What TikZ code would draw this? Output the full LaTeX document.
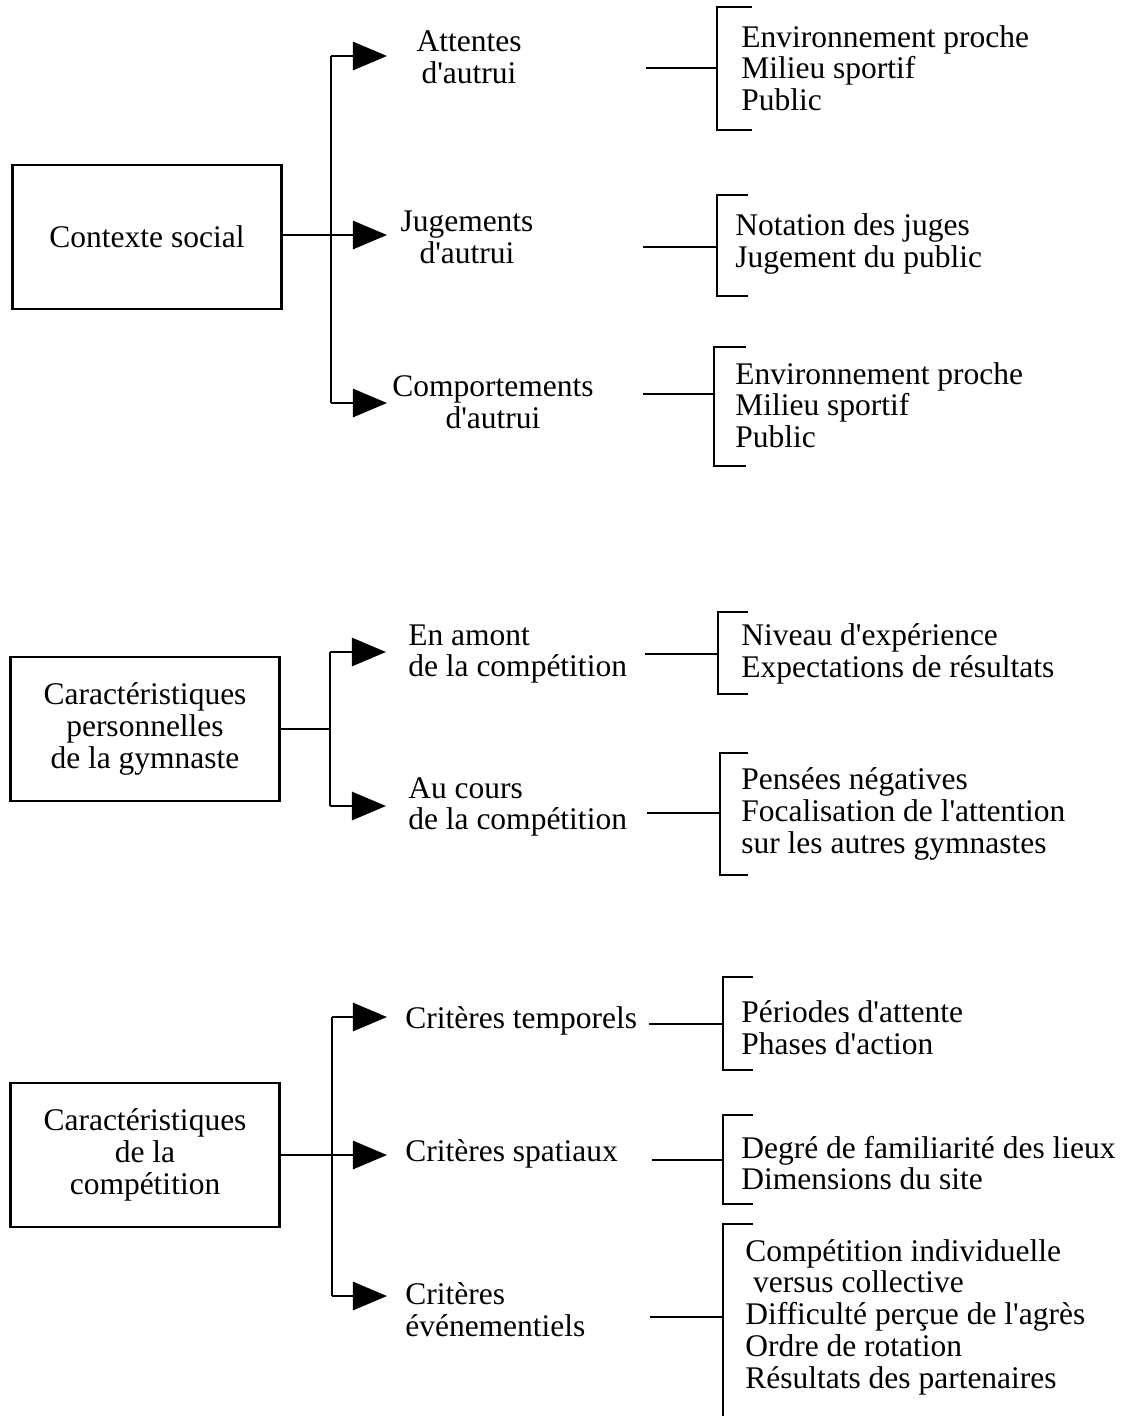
\documentclass[tikz,border=0pt]{standalone}
\usepackage{fontspec}
\newfontfamily\texte{Liberation Serif}
\usepackage{tikz}
\usetikzlibrary{arrows.meta, positioning}

\tikzset{
  boite/.style={draw, line width=2pt, minimum width=6.72cm, minimum height=3.6cm, align=center, inner sep=0pt},
  fleche/.style={line width=2pt, -{Triangle[length=0.85cm, width=0.7cm]}},
  trait/.style={line width=2pt},
  etiq/.style={align=center, inner sep=0pt},
  liste/.style={anchor=west, align=left, inner sep=0pt},
}

\begin{document}
\begin{tikzpicture}[x=0.025cm, y=-0.025cm, font=\texte\fontsize{22.4}{22.6}\selectfont]
  \useasboundingbox (0,0) rectangle (1120,1416);

  % Contexte social
  \node[boite] (ctx) at (147,237) {Contexte social};
  \coordinate (ctxh) at (331,56);
  \coordinate (ctxb) at (331,403);
  \coordinate (ctxa1) at (387,56);
  \coordinate (ctxa2) at (387,235);
  \coordinate (ctxa3) at (387,403);
  \draw[trait] (ctxh) -- (ctxb);
  \draw[fleche] (ctx.east |- ctxa2) -- (ctxa2);
  \draw[fleche] (ctxh) -- (ctxa1);
  \draw[fleche] (ctxb) -- (ctxa3);

  \node[etiq] (attentes) at (469,57) {Attentes\\d'autrui};
  \node[etiq] (jugements) at (467,237) {Jugements\\d'autrui};
  \node[etiq] (comport) at (493,402) {Comportements\\d'autrui};

  \node[liste] (l1) at (741,68) {Environnement proche\\Milieu sportif\\Public};
  \node[liste] (l2) at (735,244) {Notation des juges\\Jugement du public};
  \node[liste] (l3) at (735,405) {Environnement proche\\Milieu sportif\\Public};

  \coordinate (c1) at (646,68);
  \coordinate (c2) at (643,247);
  \coordinate (c3) at (643,394);
  \draw[trait] (c1) -- (717,68);
  \draw[trait] (c2) -- (717,247);
  \draw[trait] (c3) -- (714,394);
  \draw[trait] (752,7) -- (717,7) -- (717,130) -- (752,130);
  \draw[trait] (748,195) -- (717,195) -- (717,296) -- (748,296);
  \draw[trait] (746,347) -- (714,347) -- (714,466) -- (746,466);

  % Caracteristiques personnelles
  \node[boite] (perso) at (145,729) {Caractéristiques\\personnelles\\de la gymnaste};
  \coordinate (persoh) at (330,652);
  \coordinate (persob) at (330,806);
  \coordinate (persoa1) at (386,652);
  \coordinate (persoa2) at (386,806);
  \draw[trait] (persoh) -- (persob);
  \draw[trait] (perso.east) -- (perso.east -| persoh);
  \draw[fleche] (persoh) -- (persoa1);
  \draw[fleche] (persob) -- (persoa2);

  \node[liste] (amont) at (408,654) {En amont\\de la compétition};
  \node[liste] (cours) at (408,807) {Au cours\\de la compétition};

  \node[liste] (l4) at (741,654) {Niveau d'expérience\\Expectations de résultats};
  \node[liste] (l5) at (741,814) {Pensées négatives\\Focalisation de l'attention\\sur les autres gymnastes};

  \coordinate (c4) at (645,654);
  \coordinate (c5) at (647,813);
  \draw[trait] (c4) -- (718,654);
  \draw[trait] (c5) -- (720,813);
  \draw[trait] (748,612) -- (718,612) -- (718,694) -- (748,694);
  \draw[trait] (748,753) -- (720,753) -- (720,875) -- (748,875);

  % Caracteristiques de la competition
  \node[boite] (compet) at (145,1155) {Caractéristiques\\de la\\compétition};
  \coordinate (competh) at (332,1017);
  \coordinate (competb) at (332,1296);
  \coordinate (competa1) at (387,1017);
  \coordinate (competa2) at (387,1155);
  \coordinate (competa3) at (387,1296);
  \draw[trait] (competh) -- (competb);
  \draw[fleche] (compet.east) -- (competa2);
  \draw[fleche] (competh) -- (competa1);
  \draw[fleche] (competb) -- (competa3);

  \node[liste] (temp) at (405,1021) {Critères temporels};
  \node[liste] (spat) at (405,1154) {Critères spatiaux};
  \node[liste] (even) at (405,1310) {Critères\\événementiels};

  \node[liste] (l6) at (741,1028) {Périodes d'attente\\Phases d'action};
  \node[liste] (l7) at (741,1163) {Degré de familiarité des lieux\\Dimensions du site};
  \node[liste] (l8) at (745,1317) {Compétition individuelle\\\ versus collective\\Difficulté perçue de l'agrès\\Ordre de rotation\\Résultats des partenaires};

  \coordinate (c6) at (649,1024);
  \coordinate (c7) at (652,1160);
  \coordinate (c8) at (650,1317);
  \draw[trait] (c6) -- (723,1024);
  \draw[trait] (c7) -- (723,1160);
  \draw[trait] (c8) -- (723,1317);
  \draw[trait] (753,977) -- (723,977) -- (723,1070) -- (753,1070);
  \draw[trait] (753,1115) -- (723,1115) -- (723,1204) -- (753,1204);
  \draw[trait] (753,1224) -- (723,1224) -- (723,1420);
\end{tikzpicture}
\end{document}
